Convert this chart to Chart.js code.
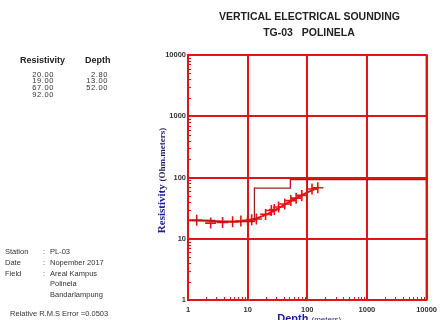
<!DOCTYPE html>
<html><head><meta charset="utf-8">
<script src="https://cdn.jsdelivr.net/npm/chart.js@4/dist/chart.umd.min.js"></script>
<style>
html,body{margin:0;padding:0;background:#fff;width:442px;height:320px;overflow:hidden;font-family:"Liberation Sans",Arial,sans-serif;}
#c{position:absolute;left:0;top:0;}
.t{position:absolute;white-space:nowrap;color:#222;line-height:1;}
.h{font-weight:bold;font-size:10.5px;}
.s{font-size:7.5px;color:#333;}
.v{font-size:7.5px;color:#333;text-align:right;width:30px;letter-spacing:0.6px;}
</style></head><body>
<canvas id="c" width="442" height="320"></canvas>
<div class="t h" style="left:219px;top:11px;width:180px;text-align:center;">VERTICAL ELECTRICAL SOUNDING</div>
<div class="t h" style="left:219px;top:27px;width:180px;text-align:center;">TG-03&nbsp;&nbsp;&nbsp;POLINELA</div>
<div id="panel"></div>
<script>
// ---- data ----
const layerRes = [20, 19, 67, 92];
const layerDepth = [2.8, 13, 52];
const obsDepth = [1.4, 2.4, 3.8, 5.6, 7.7, 10, 11.7, 14, 20, 25, 28, 33, 42, 53, 65, 81, 120, 150];
const obsRes   = [20, 18, 18.5, 19, 19.5, 20, 20.5, 21, 25, 29, 30, 33, 37, 42, 46, 51, 65, 68];
const calcDepth = [1, 2, 3, 5, 8, 10, 13, 20, 30, 50, 80, 100, 150];
const calcRes   = [20, 19.6, 19.3, 19.1, 19.3, 19.8, 21, 24.5, 30, 40, 51, 57, 68];
const axisTicks = [1, 10, 100, 1000, 10000];
const stationInfo = [["Station", "PL-03"], ["Date", "Nopember 2017"], ["Field", "Areal Kampus"], ["", "Polinela"], ["", "Bandarlampung"]];
const rmsText = "Relative R.M.S Error =0.0503";

// ---- left panel text ----
const panel = document.getElementById('panel');
function add(html, cls, left, top, extra){
  const d = document.createElement('div');
  d.className = 't ' + cls; d.style.left = left + 'px'; d.style.top = top + 'px';
  if (extra) d.style.cssText += extra;
  d.textContent = html; panel.appendChild(d);
}
add('Resistivity', '', 20, 56, 'font-weight:bold;font-size:9px;');
add('Depth', '', 85, 56, 'font-weight:bold;font-size:9px;');
layerRes.forEach((r, i) => add(r.toFixed(2), 'v', 24, 70.5 + i * 6.8));
layerDepth.forEach((d, i) => add(d.toFixed(2), 'v', 78, 70.5 + i * 6.8));
stationInfo.forEach((row, i) => {
  const y = 248 + i * 10.8;
  if (row[0]) { add(row[0], 's', 5, y); add(':', 's', 43, y); }
  add(row[1], 's', 50, y);
});
add(rmsText, 's', 10, 310);

// ---- model step vertices built from layers ----
const model = [];
let prevD = 1;
layerRes.forEach((r, i) => {
  const d = i < layerDepth.length ? layerDepth[i] : 10000;
  model.push({x: prevD, y: r}); model.push({x: d, y: r});
  prevD = d;
});
const obs = obsDepth.map((d, i) => ({x: d, y: obsRes[i]}));
const calc = calcDepth.map((d, i) => ({x: d, y: calcRes[i]}));

const RED = '#e01414';
const isMajor = v => axisTicks.some(t => Math.abs(t - v) < 1e-9 * t);

const deco = {
  id: 'deco',
  afterDatasetsDraw(chart) {
    const ctx = chart.ctx, a = chart.chartArea;
    const xs = chart.scales.x, ys = chart.scales.y;
    ctx.save();
    ctx.strokeStyle = RED; ctx.lineWidth = 1;
    for (let p = 0; p < 4; p++) {
      for (let m = 2; m <= 9; m++) {
        const v = m * Math.pow(10, p);
        const px = Math.round(xs.getPixelForValue(v)) + 0.5;
        ctx.beginPath(); ctx.moveTo(px, a.bottom); ctx.lineTo(px, a.bottom - 3); ctx.stroke();
        const py = Math.round(ys.getPixelForValue(v)) + 0.5;
        ctx.beginPath(); ctx.moveTo(a.left, py); ctx.lineTo(a.left + 3, py); ctx.stroke();
      }
    }
    ctx.lineWidth = 2;
    ctx.strokeRect(a.left, a.top, a.right - a.left, a.bottom - a.top);
    // axis titles
    ctx.textBaseline = 'alphabetic';
    ctx.translate(165, (a.top + a.bottom) / 2 + 3);
    ctx.rotate(-Math.PI / 2);
    const f1 = 'bold 11px "Liberation Serif", serif', f2 = 'bold 9px "Liberation Serif", serif';
    ctx.font = f1; const w1 = ctx.measureText('Resistivity ').width;
    ctx.font = f2; const w2 = ctx.measureText('(Ohm.meters)').width;
    let sx = -(w1 + w2) / 2;
    ctx.font = f1; ctx.fillStyle = '#1c1c9c'; ctx.fillText('Resistivity ', sx, 0);
    ctx.font = f2; ctx.fillStyle = '#1c1c5c'; ctx.fillText('(Ohm.meters)', sx + w1, 0);
    ctx.restore();
    ctx.save();
    const g1 = 'bold 11px "Liberation Sans", sans-serif', g2 = '8px "Liberation Sans", sans-serif';
    ctx.font = g1; const u1 = ctx.measureText('Depth ').width;
    ctx.font = g2; const u2 = ctx.measureText('(meters)').width;
    let bx = (a.left + a.right) / 2 - (u1 + u2) / 2 + 2;
    ctx.font = g1; ctx.fillStyle = '#1c1c9c'; ctx.fillText('Depth ', bx, 322);
    ctx.font = g2; ctx.fillStyle = '#2a2a7a'; ctx.fillText('(meters)', bx + u1, 322);
    ctx.restore();
  }
};

new Chart(document.getElementById('c'), {
  type: 'line',
  data: {
    datasets: [
      {data: model, borderColor: '#a51c1c', borderWidth: 1.3, pointRadius: 0, fill: false, tension: 0},
      {data: calc, borderColor: RED, borderWidth: 2, pointRadius: 0, fill: false, cubicInterpolationMode: 'monotone'},
      {data: obs, showLine: false, pointStyle: 'cross', pointRadius: 5.5, pointBorderWidth: 1.6,
       borderColor: RED, backgroundColor: RED, pointBorderColor: RED}
    ]
  },
  options: {
    responsive: false, animation: false, events: [],
    layout: {padding: {left: 150, right: 10, top: 55, bottom: 8}},
    plugins: {legend: {display: false}, tooltip: {enabled: false}},
    scales: {
      x: {
        type: 'logarithmic', min: 1, max: 10000, border: {display: false},
        afterFit: s => { s.height = 12; },
        grid: {drawTicks: false, lineWidth: 2, color: c => (c.tick && isMajor(c.tick.value)) ? RED : 'rgba(0,0,0,0)'},
        ticks: {autoSkip: false, maxRotation: 0, padding: 5, color: '#333', font: {size: 7.5, weight: 'bold', family: '"Liberation Sans", Arial'},
          callback: v => isMajor(v) ? String(v) : ''}
      },
      y: {
        type: 'logarithmic', min: 1, max: 10000, border: {display: false},
        afterFit: s => { s.width = 38; },
        grid: {drawTicks: false, lineWidth: 2, color: c => (c.tick && isMajor(c.tick.value)) ? RED : 'rgba(0,0,0,0)'},
        ticks: {autoSkip: false, padding: 2, color: '#333', font: {size: 7.5, weight: 'bold', family: '"Liberation Sans", Arial'},
          callback: v => isMajor(v) ? String(v) : ''}
      }
    }
  },
  plugins: [deco]
});
</script>
</body></html>
